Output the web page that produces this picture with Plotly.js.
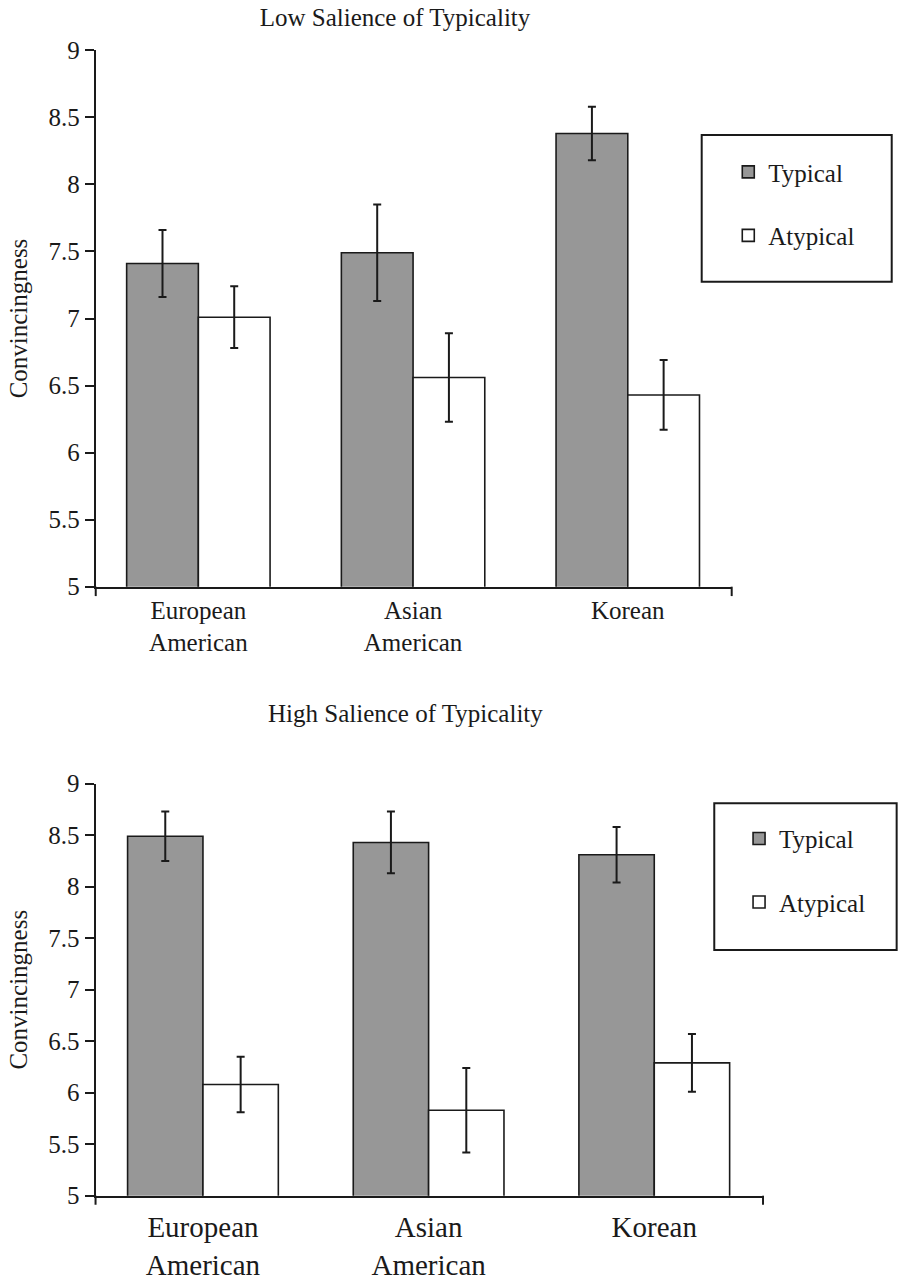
<!DOCTYPE html>
<html>
<head>
<meta charset="utf-8">
<script src="https://cdn.plot.ly/plotly-3.0.1.min.js"></script>
<style>
  html, body { margin: 0; padding: 0; background: #ffffff; }
  #chart { width: 898px; height: 1281px; }
</style>
</head>
<body>
<div id="chart"></div>
<script>
// ---- Data ----
const categories = ['European<br>American', 'Asian<br>American', 'Korean'];
const seriesNames = ['Typical', 'Atypical'];

// Low salience of typicality
const lowTypical = [7.41, 7.49, 8.38];
const lowTypicalErr = [0.25, 0.36, 0.20];
const lowAtypical = [7.01, 6.56, 6.43];
const lowAtypicalErr = [0.23, 0.33, 0.26];

// High salience of typicality
const highTypical = [8.49, 8.43, 8.31];
const highTypicalErr = [0.24, 0.30, 0.27];
const highAtypical = [6.08, 5.83, 6.29];
const highAtypicalErr = [0.27, 0.41, 0.28];

const panelTitles = ['Low Salience of Typicality', 'High Salience of Typicality'];
const yAxisTitle = 'Convincingness';

// ---- Styles ----
const FONT = 'Liberation Serif';
const INK = '#1a1a1a';
const GRAY = '#979797';

function barTrace(name, x, y, err, fill, xa, ya, legend, group) {
  return {
    type: 'bar', name: name, x: x, y: y,
    xaxis: xa, yaxis: ya, legend: legend, legendgroup: group,
    marker: { color: fill, line: { color: INK, width: 1.6 } },
    error_y: { type: 'data', array: err, visible: true, color: INK, thickness: 2, width: 4 },
    hoverinfo: 'y'
  };
}

const data = [
  barTrace(seriesNames[0], categories, lowTypical, lowTypicalErr, GRAY, 'x', 'y', 'legend', 'g1'),
  barTrace(seriesNames[1], categories, lowAtypical, lowAtypicalErr, '#ffffff', 'x', 'y', 'legend', 'g2'),
  barTrace(seriesNames[0], categories, highTypical, highTypicalErr, GRAY, 'x2', 'y2', 'legend2', 'h1'),
  barTrace(seriesNames[1], categories, highAtypical, highAtypicalErr, '#ffffff', 'x2', 'y2', 'legend2', 'h2')
];

function yAxis(anchor, domain) {
  return {
    anchor: anchor, domain: domain, range: [5, 9], tick0: 5, dtick: 0.5,
    ticks: 'outside', ticklen: 9, tickwidth: 2, tickcolor: INK,
    showline: true, linewidth: 2, linecolor: INK,
    showgrid: false, zeroline: false,
    tickfont: { family: FONT, size: 25, color: INK },
    title: { text: yAxisTitle, font: { family: FONT, size: 25, color: INK }, standoff: 14 },
    fixedrange: true
  };
}
function xAxis(anchor, domain, range, fsize, standoff) {
  return {
    anchor: anchor, domain: domain, range: range, type: 'category',
    showline: true, linewidth: 2, linecolor: INK,
    ticks: '', showgrid: false, zeroline: false,
    ticklabelstandoff: standoff,
    tickfont: { family: FONT, size: fsize, color: INK },
    fixedrange: true
  };
}

function endTick(xa, ya, xpos, len) {
  return { type: 'line', xref: xa + ' domain', yref: ya + ' domain',
           x0: xpos, x1: xpos, y0: 0, y1: -len, line: { color: INK, width: 2 } };
}

const legendCommon = {
  font: { family: FONT, size: 25, color: INK },
  bgcolor: 'rgba(0,0,0,0)', borderwidth: 0,
  traceorder: 'grouped', tracegroupgap: 28,
  xanchor: 'left', yanchor: 'top'
};

const layout = {
  width: 898, height: 1281,
  margin: { l: 0, r: 0, t: 0, b: 0 },
  paper_bgcolor: '#ffffff', plot_bgcolor: 'rgba(0,0,0,0)',
  barmode: 'group', bargap: 0.332, bargroupgap: 0,
  showlegend: true,
  font: { family: FONT, color: INK },
  title: { text: panelTitles[0], font: { family: FONT, size: 25, color: INK },
           x: 395 / 898, xanchor: 'center', y: 1 - 17 / 1281, yanchor: 'middle', xref: 'paper', yref: 'paper' },
  xaxis: xAxis('y', [0.1066, 0.8148], [-0.478, 2.484], 25, 0),
  yaxis: yAxis('x', [0.5420, 0.9607]),
  xaxis2: xAxis('y2', [0.1064, 0.8497], [-0.476, 2.482], 29, 5),
  yaxis2: yAxis('x2', [0.0666, 0.3882]),
  legend: Object.assign({}, legendCommon, { x: 0.811, y: 0.8836 }),
  legend2: Object.assign({}, legendCommon, { x: 0.823, y: 0.3632 }),
  annotations: [
    { text: panelTitles[1], xref: 'paper', yref: 'paper', x: 405 / 898, y: 1 - 713.5 / 1281,
      xanchor: 'center', yanchor: 'middle', showarrow: false,
      font: { family: FONT, size: 25, color: INK } }
  ],
  shapes: [
    endTick('x', 'y', 0, 0.0175), endTick('x', 'y', 1, 0.0175),
    endTick('x2', 'y2', 0, 0.022), endTick('x2', 'y2', 1, 0.022),
    { type: 'rect', xref: 'paper', yref: 'paper', x0: 0.7814, x1: 0.9930, y0: 0.7801, y1: 0.8946,
      line: { color: INK, width: 2 }, fillcolor: 'rgba(0,0,0,0)' },
    { type: 'rect', xref: 'paper', yref: 'paper', x0: 0.7954, x1: 0.9985, y0: 0.2584, y1: 0.3729,
      line: { color: INK, width: 2 }, fillcolor: 'rgba(0,0,0,0)' }
  ]
};

Plotly.newPlot('chart', data, layout, { displayModeBar: false, staticPlot: true });
</script>
</body>
</html>
